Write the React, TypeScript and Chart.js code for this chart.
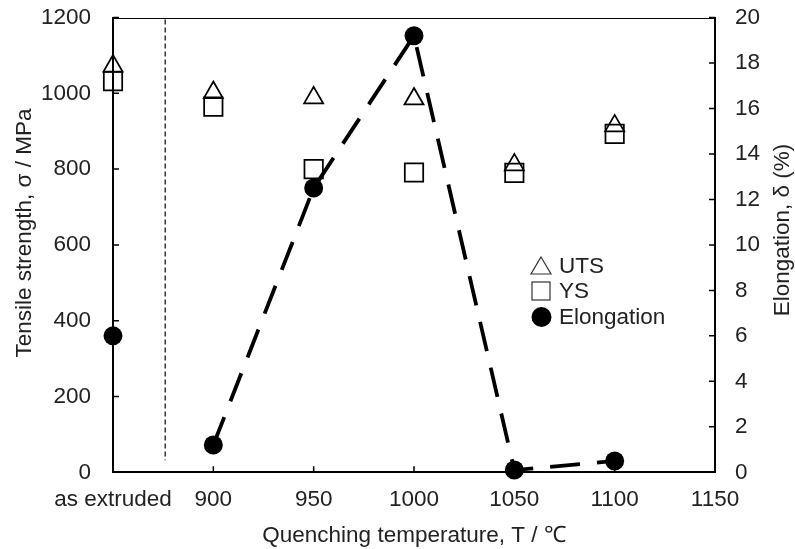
import React, { useEffect, useRef } from 'react';
import { Chart, registerables } from 'chart.js';

Chart.register(...registerables);

// x position 850 stands for the "as extruded" state
const temperatures = [850, 900, 950, 1000, 1050, 1100];
const utsValues = [1072, 1002, 988, 985, 811, 914];
const ysValues = [1032, 965, 800, 791, 790, 893];
const elongationValues = [6.0, 1.2, 12.5, 19.2, 0.1, 0.5];

const xTickValues = [850, 900, 950, 1000, 1050, 1100, 1150];
const xTickLabels = ['as extruded', '900', '950', '1000', '1050', '1100', '1150'];

const dividerX = [876, 876];
const dividerY = [1195, 32];

const legendLabels = ['UTS', 'YS', 'Elongation'];

const FONT = '"Liberation Sans", Arial, sans-serif';
const TEXT = '#222';
const FS = 22.5;

const decorPlugin = {
  id: 'decor',
  afterDraw(chart: any) {
    const { ctx, chartArea, scales } = chart;
    const { left, right, top, bottom } = chartArea;
    ctx.save();
    // top frame line
    ctx.strokeStyle = '#000';
    ctx.lineWidth = 1;
    ctx.beginPath();
    ctx.moveTo(left, Math.round(top) + 0.5);
    ctx.lineTo(right, Math.round(top) + 0.5);
    ctx.stroke();

    // inward tick marks
    ctx.lineWidth = 1.5;
    const tl = 6;
    ctx.beginPath();
    scales.x.ticks.forEach((t: any) => {
      const px = scales.x.getPixelForValue(t.value);
      ctx.moveTo(px, bottom);
      ctx.lineTo(px, bottom - tl);
    });
    scales.y.ticks.forEach((t: any) => {
      const py = scales.y.getPixelForValue(t.value);
      ctx.moveTo(left, py);
      ctx.lineTo(left + tl, py);
    });
    scales.y1.ticks.forEach((t: any) => {
      const py = scales.y1.getPixelForValue(t.value);
      ctx.moveTo(right, py);
      ctx.lineTo(right - tl, py);
    });
    ctx.stroke();

    // axis titles
    ctx.fillStyle = TEXT;
    ctx.font = `${FS}px ${FONT}`;
    ctx.textAlign = 'center';
    ctx.textBaseline = 'alphabetic';
    ctx.fillText('Quenching temperature, T / \u2103', (left + right) / 2, 542);

    ctx.save();
    ctx.translate(31, 233);
    ctx.rotate(-Math.PI / 2);
    ctx.fillText('Tensile strength, \u03c3 / MPa', 0, 0);
    ctx.restore();

    ctx.save();
    ctx.translate(789, 230);
    ctx.rotate(-Math.PI / 2);
    ctx.fillText('Elongation, \u03b4 (%)', 0, 0);
    ctx.restore();

    // legend
    const rows = [266, 291, 317];
    const sx = 541;
    ctx.strokeStyle = '#333';
    ctx.lineWidth = 1.2;
    ctx.beginPath();
    ctx.moveTo(sx, rows[0] - 9);
    ctx.lineTo(sx + 10, rows[0] + 8);
    ctx.lineTo(sx - 10, rows[0] + 8);
    ctx.closePath();
    ctx.stroke();
    ctx.strokeRect(sx - 9, rows[1] - 9, 18, 18);
    ctx.fillStyle = '#000';
    ctx.beginPath();
    ctx.arc(sx + 0.5, rows[2], 10, 0, Math.PI * 2);
    ctx.fill();

    ctx.fillStyle = TEXT;
    ctx.textAlign = 'left';
    ctx.textBaseline = 'middle';
    legendLabels.forEach((l, i) => ctx.fillText(l, 559, rows[i] + 1));
    ctx.restore();
  },
};

export default function App() {
  const ref = useRef<HTMLCanvasElement | null>(null);

  useEffect(() => {
    if (!ref.current) return;
    const tickFont = { family: FONT, size: FS };
    const fitY = (w: number) => (s: any) => {
      s.width = w;
      s.paddingTop = 17.5;
      s.paddingBottom = 0;
    };
    const chart = new Chart(ref.current, {
      type: 'scatter',
      data: {
        datasets: [
          {
            label: legendLabels[0],
            data: temperatures.map((x, i) => ({ x, y: utsValues[i] })),
            yAxisID: 'y',
            pointStyle: 'triangle',
            pointRadius: 11,
            pointBorderWidth: 1.75,
            pointBorderColor: '#000',
            pointBackgroundColor: 'rgba(0,0,0,0)',
            showLine: false,
            clip: false,
          } as any,
          {
            label: legendLabels[1],
            data: temperatures.map((x, i) => ({ x, y: ysValues[i] })),
            yAxisID: 'y',
            pointStyle: 'rect',
            pointRadius: 13,
            pointBorderWidth: 1.75,
            pointBorderColor: '#000',
            pointBackgroundColor: 'rgba(0,0,0,0)',
            showLine: false,
            clip: false,
          } as any,
          {
            label: legendLabels[2],
            data: temperatures.map((x, i) => ({ x, y: elongationValues[i] })),
            yAxisID: 'y1',
            pointStyle: 'circle',
            pointRadius: 9.5,
            pointBorderWidth: 0,
            pointBackgroundColor: '#000',
            pointBorderColor: '#000',
            showLine: true,
            borderColor: '#000',
            borderWidth: 3.8,
            borderDash: [30, 17],
            segment: {
              borderColor: (c: any) => (c.p0DataIndex === 0 ? 'rgba(0,0,0,0)' : '#000'),
            },
            clip: false,
          } as any,
          {
            label: 'divider',
            data: dividerX.map((x, i) => ({ x, y: dividerY[i] })),
            yAxisID: 'y',
            showLine: true,
            borderColor: '#000',
            borderWidth: 1.2,
            borderDash: [5, 3],
            pointRadius: 0,
          } as any,
        ],
      },
      plugins: [decorPlugin],
      options: {
        animation: false,
        responsive: false,
        layout: { padding: 0 },
        plugins: { legend: { display: false }, tooltip: { enabled: false } },
        scales: {
          x: {
            type: 'linear',
            min: 850,
            max: 1150,
            afterBuildTicks: (s: any) => {
              s.ticks = xTickValues.map((v) => ({ value: v }));
            },
            afterFit: (s: any) => {
              s.height = 549 - 472.3;
              s.paddingLeft = 0;
              s.paddingRight = 0;
            },
            grid: { display: false, drawTicks: false },
            border: { display: true, width: 2, color: '#000' },
            ticks: {
              font: tickFont,
              color: TEXT,
              padding: 14,
              maxRotation: 0,
              autoSkip: false,
              callback: (v: any) => {
                const i = xTickValues.indexOf(Number(v));
                return i >= 0 ? xTickLabels[i] : '';
              },
            },
          },
          y: {
            type: 'linear',
            position: 'left',
            min: 0,
            max: 1200,
            afterFit: fitY(113),
            grid: { display: false, drawTicks: false },
            border: { display: true, width: 2, color: '#000' },
            ticks: {
              stepSize: 200,
              font: tickFont,
              color: TEXT,
              padding: 22,
              callback: (v: any) => String(v),
            },
          },
          y1: {
            type: 'linear',
            position: 'right',
            min: 0,
            max: 20,
            afterFit: fitY(80),
            grid: { display: false, drawTicks: false },
            border: { display: true, width: 2, color: '#000' },
            ticks: {
              stepSize: 2,
              font: tickFont,
              color: TEXT,
              padding: 20,
              callback: (v: any) => String(v),
            },
          },
        },
      } as any,
    });
    return () => chart.destroy();
  }, []);

  return (
    <div style={{ position: 'absolute', left: 0, top: 0, width: 795, height: 549, background: '#fff' }}>
      <canvas ref={ref} width={795} height={549} style={{ width: 795, height: 549 }} />
    </div>
  );
}
